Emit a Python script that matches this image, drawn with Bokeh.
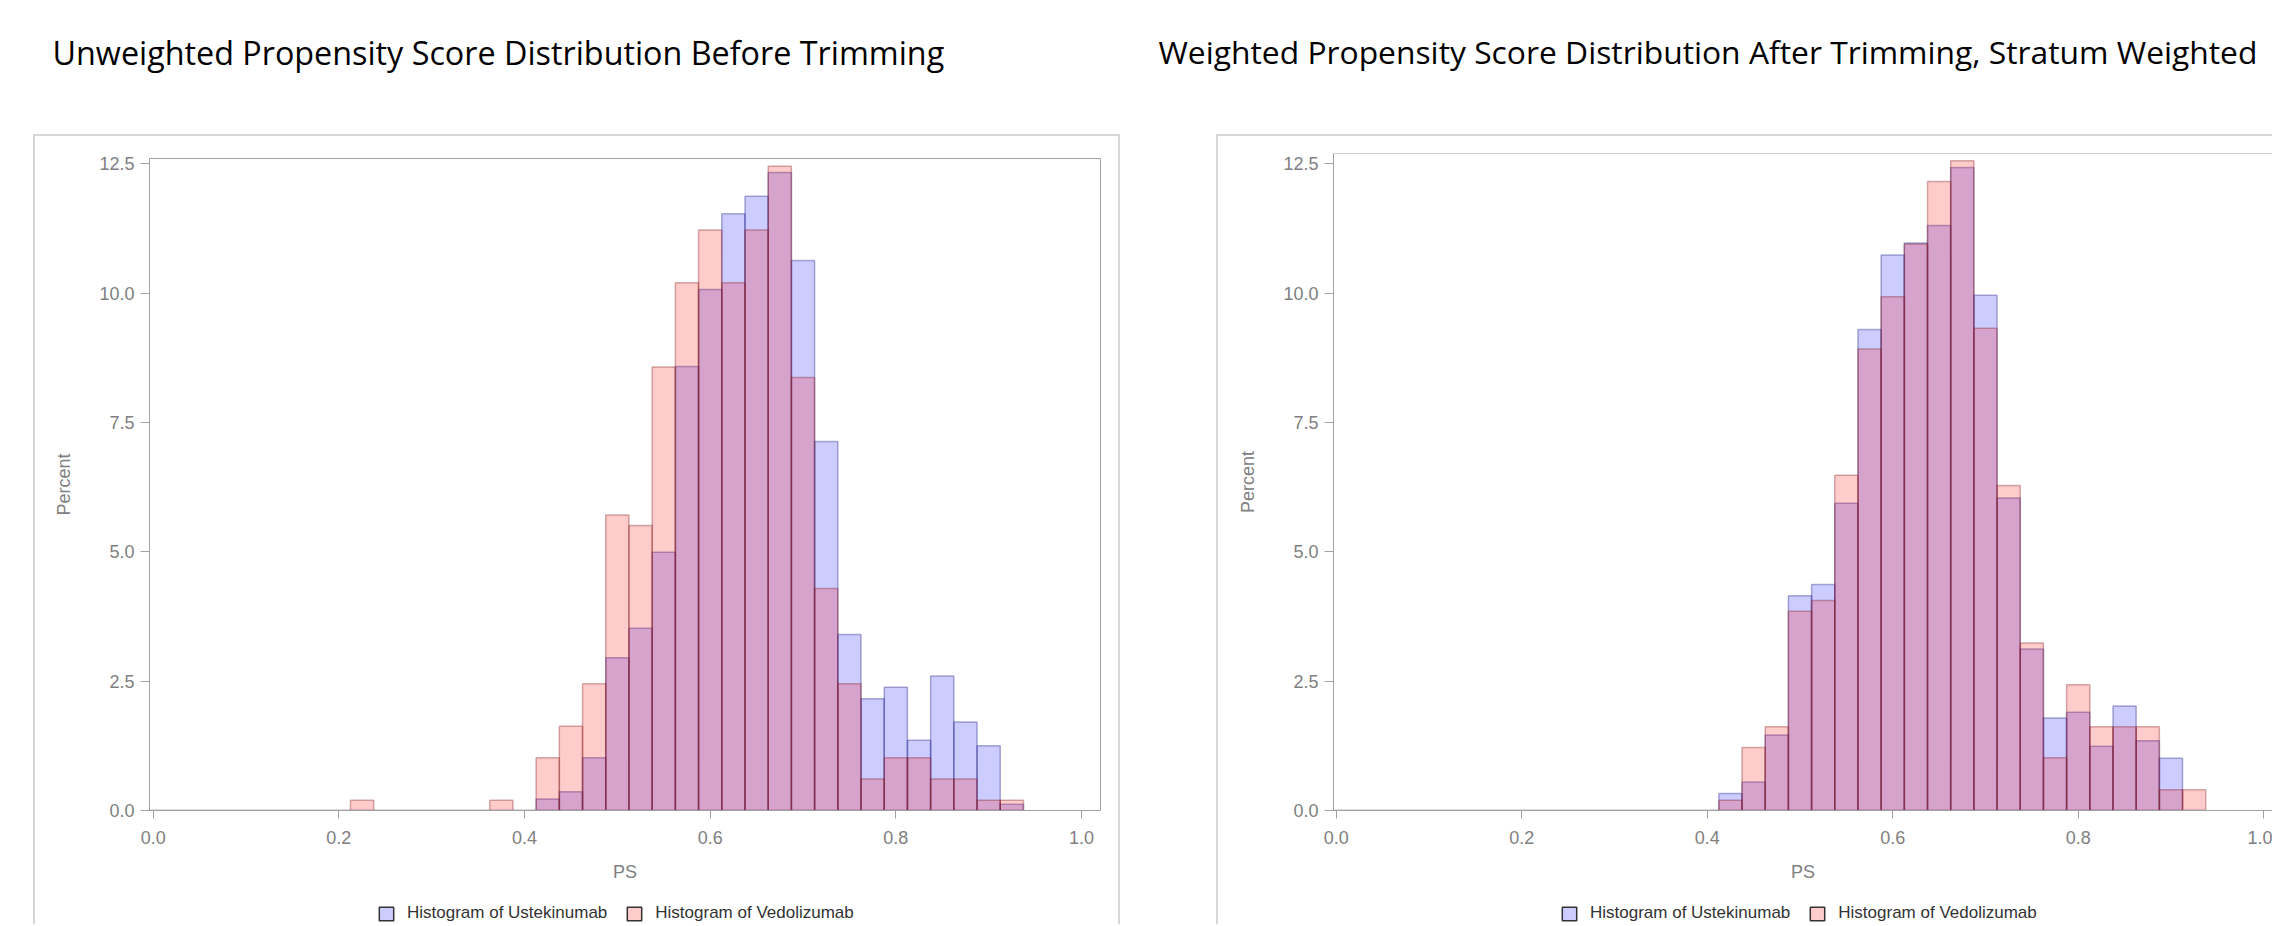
from bokeh.plotting import figure
from bokeh.models import (Range1d, FixedTicker, NumeralTickFormatter, Legend, LegendItem,
                          Label, Span, ColumnDataSource, Spacer)
from bokeh.layouts import row, column
from bokeh.embed import file_html
from bokeh.resources import INLINE
from bokeh.core.validation import silence
from bokeh.core.validation.warnings import MISSING_RENDERERS

silence(MISSING_RENDERERS, True)

# ---------------- data ----------------
ps_bins = [0.000, 0.025, 0.050, 0.075, 0.100, 0.125, 0.150, 0.175, 0.200, 0.225,
           0.250, 0.275, 0.300, 0.325, 0.350, 0.375, 0.400, 0.425, 0.450, 0.475,
           0.500, 0.525, 0.550, 0.575, 0.600, 0.625, 0.650, 0.675, 0.700, 0.725,
           0.750, 0.775, 0.800, 0.825, 0.850, 0.875, 0.900, 0.925]
bin_width = 0.025

before_ustekinumab = [0, 0, 0, 0, 0, 0, 0, 0, 0, 0,
                      0, 0, 0, 0, 0, 0, 0, 0.22, 0.36, 1.02,
                      2.95, 3.52, 4.99, 8.58, 10.07, 11.53, 11.87, 12.33, 10.63, 7.13,
                      3.40, 2.16, 2.38, 1.36, 2.60, 1.71, 1.25, 0.12]
before_vedolizumab = [0, 0, 0, 0, 0, 0, 0, 0, 0, 0.20,
                      0, 0, 0, 0, 0, 0.20, 0, 1.02, 1.63, 2.45,
                      5.71, 5.51, 8.57, 10.20, 11.22, 10.20, 11.22, 12.45, 8.37, 4.29,
                      2.45, 0.61, 1.02, 1.02, 0.61, 0.61, 0.20, 0.20]

after_ustekinumab = [0, 0, 0, 0, 0, 0, 0, 0, 0, 0,
                     0, 0, 0, 0, 0, 0, 0, 0.33, 0.55, 1.46,
                     4.15, 4.37, 5.94, 9.30, 10.74, 10.97, 11.31, 12.43, 9.96, 6.04,
                     3.12, 1.79, 1.90, 1.24, 2.02, 1.35, 1.01, 0.00]
after_vedolizumab = [0, 0, 0, 0, 0, 0, 0, 0, 0, 0,
                     0, 0, 0, 0, 0, 0, 0, 0.20, 1.22, 1.62,
                     3.85, 4.06, 6.48, 8.92, 9.93, 10.95, 12.16, 12.56, 9.32, 6.28,
                     3.24, 1.02, 2.43, 1.62, 1.62, 1.62, 0.40, 0.40]

x_ticks = [0.0, 0.2, 0.4, 0.6, 0.8, 1.0]
y_ticks = [0.0, 2.5, 5.0, 7.5, 10.0, 12.5]

title_left = "Unweighted Propensity Score Distribution Before Trimming"
title_right = "Weighted Propensity Score Distribution After Trimming, Stratum Weighted"
label_ust = "Histogram of Ustekinumab"
label_ved = "Histogram of Vedolizumab"

# ---------------- style ----------------
TITLE_FONT = "Open Sans"
AX_FONT = "Liberation Sans"
BLUE = "#0000ff"
RED = "#ff0000"
FRAME = "#a0a0a0"
TICKTXT = "#808080"
BORDER = "#d6d6d6"


def bare_figure(width, height, xr, yr):
    p = figure(width=width, height=height, x_range=Range1d(*xr), y_range=Range1d(*yr),
               output_backend="svg", toolbar_location=None, min_border=0,
               x_axis_location=None, y_axis_location=None, outline_line_color=None,
               border_fill_color=None, background_fill_color=None)
    p.xgrid.visible = False
    p.ygrid.visible = False
    return p


def make_title(text, width, x, size):
    p = bare_figure(width, 134, (0, width), (134, 0))
    p.add_layout(Label(x=x, y=51, text=text, text_font=TITLE_FONT, text_font_size=size,
                       text_color="#000000", text_baseline="alphabetic", text_align="left"))
    return p


def make_chart(src, width, xr, yr, min_left, min_top, min_right, shadow, right_open):
    p = figure(width=width, height=756, x_range=Range1d(*xr), y_range=Range1d(*yr),
               output_backend="svg", toolbar_location=None,
               min_border_left=min_left, min_border_top=min_top,
               min_border_right=min_right, min_border_bottom=80,
               border_fill_color=None, background_fill_color="white",
               x_axis_label="PS", y_axis_label="Percent")
    p.styles = {"box-shadow": shadow}
    if right_open:
        p.outline_line_color = None
        p.add_layout(Span(location=yr[1], dimension="width", line_color=FRAME, line_width=1))
    else:
        p.outline_line_color = FRAME
        p.outline_line_width = 1
    p.xgrid.visible = False
    p.ygrid.visible = False

    p.vbar(x="ps", top="ust", bottom=0, width=bin_width, source=src,
           fill_color=BLUE, fill_alpha=0.2, line_color="#1a1a80", line_alpha=0.35, line_width=1.5)
    p.vbar(x="ps", top="ved", bottom=0, width=bin_width, source=src,
           fill_color=RED, fill_alpha=0.2, line_color="#801a1a", line_alpha=0.35, line_width=1.5)

    p.xaxis.ticker = FixedTicker(ticks=x_ticks, minor_ticks=[])
    p.yaxis.ticker = FixedTicker(ticks=y_ticks, minor_ticks=[])
    p.xaxis.formatter = NumeralTickFormatter(format="0.0")
    p.yaxis.formatter = NumeralTickFormatter(format="0.0")
    for ax in p.axis:
        ax.axis_line_color = FRAME
        ax.major_tick_line_color = FRAME
        ax.minor_tick_line_color = None
        ax.major_tick_in = 0
        ax.major_label_text_font = AX_FONT
        ax.major_label_text_font_size = "18px"
        ax.major_label_text_color = TICKTXT
        ax.axis_label_text_font = AX_FONT
        ax.axis_label_text_font_size = "18px"
        ax.axis_label_text_color = TICKTXT
        ax.axis_label_text_font_style = "normal"
    p.xaxis.major_tick_out = 8
    p.xaxis.major_label_standoff = 12
    p.xaxis.axis_label_standoff = 15
    p.yaxis.major_tick_out = 9
    p.yaxis.major_label_standoff = 6
    p.yaxis.axis_label_standoff = 22
    return p


def make_legend_fig(src, width, shadow, x_off):
    lf = bare_figure(width, 34, (0, 1), (0, 1))
    lf.styles = {"box-shadow": shadow}
    # hidden proxies drawn from the same data, used only for the legend swatches
    rb = lf.vbar(x="ps", top="ust", width=bin_width, source=src, fill_color=BLUE,
                 fill_alpha=0.2, line_color="#333333", line_width=1.5, visible=False)
    rr = lf.vbar(x="ps", top="ved", width=bin_width, source=src, fill_color=RED,
                 fill_alpha=0.2, line_color="#333333", line_width=1.5, visible=False)
    legend = Legend(items=[LegendItem(label=label_ust, renderers=[rb]),
                           LegendItem(label=label_ved, renderers=[rr])],
                    orientation="horizontal", location=(x_off, 1), margin=0, padding=0,
                    spacing=18, glyph_width=18, glyph_height=17, label_standoff=12,
                    border_line_color=None, background_fill_alpha=0,
                    inactive_fill_alpha=0,
                    label_text_font=AX_FONT, label_text_font_size="17px",
                    label_text_color="#333333")
    lf.add_layout(legend)
    return lf


src_before = ColumnDataSource(dict(ps=ps_bins, ust=before_ustekinumab, ved=before_vedolizumab))
src_after = ColumnDataSource(dict(ps=ps_bins, ust=after_ustekinumab, ved=after_vedolizumab))

sh_left_top = f"inset 2px 0 0 {BORDER}, inset -2px 0 0 {BORDER}, inset 0 2px 0 {BORDER}"
sh_left_mid = f"inset 2px 0 0 {BORDER}, inset -2px 0 0 {BORDER}"
sh_right_top = f"inset 2px 0 0 {BORDER}, inset 0 2px 0 {BORDER}"
sh_right_mid = f"inset 2px 0 0 {BORDER}"

t_left = make_title(title_left, 1136, 52, "32.3px")
t_right = make_title(title_right, 1136, 22, "31.8px")

c_left = make_chart(src_before, 1087, (-0.004, 1.0205), (0, 12.6), 116, 24, 20, sh_left_top, False)
c_right = make_chart(src_after, 1056, (-0.003, 1.0095), (0, 12.7), 117, 19, 0, sh_right_top, True)

l_left = make_legend_fig(src_before, 1087, sh_left_mid, 228)
l_right = make_legend_fig(src_after, 1056, sh_right_mid, 227)

layout = column(
    row(t_left, t_right),
    row(Spacer(width=33, height=790), column(c_left, l_left),
        Spacer(width=96, height=790), column(c_right, l_right)),
)

open("out.html", "w").write(file_html(layout, INLINE))
